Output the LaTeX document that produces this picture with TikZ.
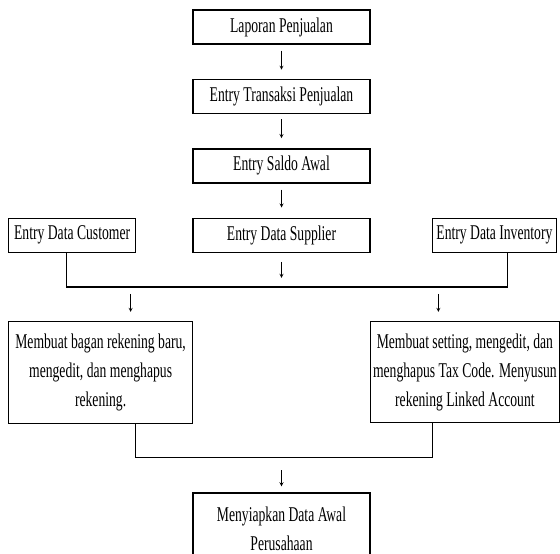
\documentclass[tikz,border=0pt]{standalone}
\usepackage{fontspec}
\setmainfont{Liberation Serif}[FakeStretch=0.65]
\usepackage{tikz}
\usetikzlibrary{arrows,positioning,calc}

\begin{document}
\begin{tikzpicture}[
    x=1pt, y=1pt,
    box/.style={draw, line width=1.4pt, minimum height=34pt, inner sep=0pt,
                align=center, font=\fontsize{21}{29}\selectfont},
    conn/.style={line width=1.3pt},
    arr/.style={->, >=stealth, line width=0.8pt}
]
    \useasboundingbox (0,0) rectangle (560,-554);

    % Main column
    \node[box, minimum width=177pt] (lap) at (281.5,-27) {Laporan Penjualan};
    \node[box, minimum width=177pt, below=34pt of lap] (trans) {Entry Transaksi Penjualan};
    \node[box, minimum width=177pt, below=34pt of trans] (saldo) {Entry Saldo Awal};
    \node[box, minimum width=177pt, below=34pt of saldo] (supp) {Entry Data Supplier};

    % Data entry row
    \node[box, minimum width=127pt, left=56pt of supp] (cust) {Entry Data Customer};
    \node[box, minimum width=124pt, right=61pt of supp] (inv) {Entry Data Inventory};

    % Account boxes
    \node[box, minimum width=184pt, minimum height=102pt,
          below right=68pt and 0pt of cust.south west] (akun)
        {Membuat bagan rekening baru,\\mengedit, dan menghapus\\rekening.};
    \node[box, minimum width=189pt, minimum height=101pt,
          below left=68pt and -3pt of inv.south east] (tax)
        {Membuat setting, mengedit, dan\\menghapus Tax Code. Menyusun\\rekening Linked Account};

    % Final box
    \coordinate (fin) at (akun.south -| supp.south);
    \node[box, minimum width=177pt, minimum height=72pt, below=68pt of fin] (awal)
        {Menyiapkan Data Awal\\Perusahaan};

    % Connectors
    \draw[conn] ([xshift=-5.5pt]cust.south) -- ++(0,-34) -| ([xshift=13pt]inv.south);
    \draw[conn] ([xshift=35pt]akun.south) -- ++(0,-33) -| ([xshift=-32.5pt]tax.south);

    % Arrows
    \draw[arr] ([yshift=-6pt]lap.south) -- ([yshift=-25pt]lap.south);
    \draw[arr] ([yshift=-5pt]trans.south) -- ([yshift=-24pt]trans.south);
    \draw[arr] ([yshift=-6pt]saldo.south) -- ([yshift=-24pt]saldo.south);
    \draw[arr] ([yshift=-9pt]supp.south) -- ([yshift=-25pt]supp.south);
    \draw[arr] ([xshift=30pt,yshift=27pt]akun.north) -- ([xshift=30pt,yshift=9pt]akun.north);
    \draw[arr] ([xshift=-26.5pt,yshift=27pt]tax.north) -- ([xshift=-26.5pt,yshift=9pt]tax.north);
    \draw[arr] ([yshift=22pt]awal.north) -- ([yshift=6pt]awal.north);
\end{tikzpicture}
\end{document}
